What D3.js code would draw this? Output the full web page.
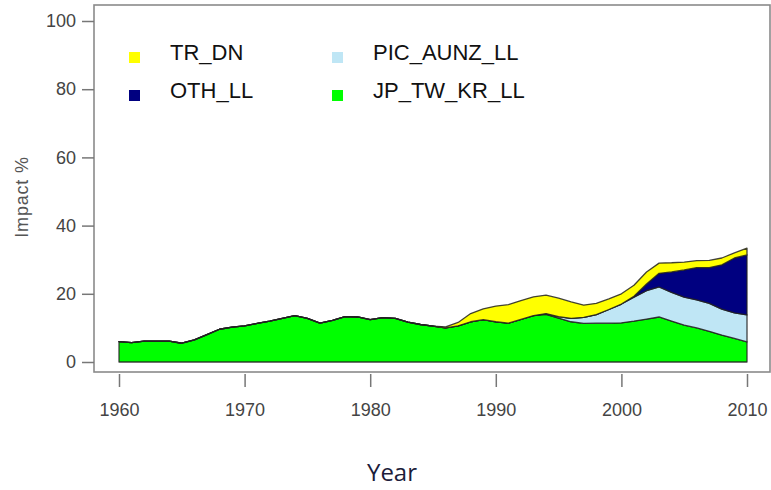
<!DOCTYPE html>
<html>
<head>
<meta charset="utf-8">
<script src="https://cdn.jsdelivr.net/npm/d3@7"></script>
<style>
	body { margin: 0; background: #fff; }
	svg { display: block; }
</style>
</head>
<body>
<div id="graph-container"></div>
<script>
// yearly impact (%) per fishery
const years = d3.range(1960, 2011);
const jpTwKrLL = [6.0, 5.7, 6.1, 6.1, 6.1, 5.5, 6.5, 8.0, 9.6, 10.2,
	10.6, 11.3, 12.0, 12.8, 13.6, 12.8, 11.4, 12.2, 13.3, 13.2,
	12.4, 13.0, 12.8, 11.7, 11.0, 10.5, 10.0, 10.6, 11.8, 12.4,
	11.8, 11.4, 12.5, 13.6, 14.0, 12.9, 11.8, 11.3, 11.4, 11.4,
	11.5, 12.0, 12.6, 13.2, 12.0, 10.8, 10.0, 9.0, 7.9, 6.9, 5.9];
const picAunzLL = [0, 0, 0, 0, 0, 0, 0, 0, 0, 0,
	0, 0, 0, 0, 0, 0, 0, 0, 0, 0,
	0, 0, 0, 0, 0, 0, 0, 0, 0, 0,
	0, 0, 0, 0, 0.2, 0.4, 1.0, 1.8, 2.5, 4.0,
	5.5, 7.0, 8.3, 8.8, 8.4, 8.2, 8.2, 8.2, 7.6, 7.5, 7.9];
const othLL = [0, 0, 0, 0, 0, 0, 0, 0, 0, 0,
	0, 0, 0, 0, 0, 0, 0, 0, 0, 0,
	0, 0, 0, 0, 0, 0, 0, 0, 0, 0,
	0, 0, 0, 0, 0, 0, 0, 0, 0, 0,
	0, 0.3, 2.0, 4.0, 6.0, 8.0, 9.5, 10.5, 13.0, 16.1, 17.6];
const trDN = [0, 0, 0, 0, 0, 0, 0, 0, 0, 0,
	0, 0, 0, 0, 0, 0, 0, 0, 0, 0,
	0, 0, 0, 0, 0, 0, 0.3, 1.0, 2.4, 3.2,
	4.6, 5.4, 5.5, 5.5, 5.4, 5.4, 4.8, 3.6, 3.3, 3.1,
	3.0, 3.2, 3.5, 3.0, 2.7, 2.3, 2.0, 2.1, 2.0, 1.5, 2.0];

const keys = ["JP_TW_KR_LL", "PIC_AUNZ_LL", "OTH_LL", "TR_DN"];
const colors = ["#00ff00", "#bfe6f5", "#000080", "#ffff00"];
const xTicks = [1960, 1970, 1980, 1990, 2000, 2010];
const yTicks = [0, 20, 40, 60, 80, 100];

// legend order as drawn (two columns)
const legendItems = [
	{ name: "TR_DN", color: "#ffff00", col: 0, row: 0 },
	{ name: "OTH_LL", color: "#000080", col: 0, row: 1 },
	{ name: "PIC_AUNZ_LL", color: "#bfe6f5", col: 1, row: 0 },
	{ name: "JP_TW_KR_LL", color: "#00ff00", col: 1, row: 1 }
];

const w = 771;
const h = 490;

const svg = d3.select("#graph-container")
	.append("svg")
	.attr("width", w)
	.attr("height", h);

const x = d3.scaleLinear().domain([1960, 2010]).range([119, 747]);
const y = d3.scaleLinear().domain([0, 100]).range([362, 21]);

// table for the stack
const rows = years.map((yr, i) => ({
	year: yr,
	JP_TW_KR_LL: jpTwKrLL[i],
	PIC_AUNZ_LL: picAunzLL[i],
	OTH_LL: othLL[i],
	TR_DN: trDN[i]
}));

const series = d3.stack().keys(keys)(rows);

const area = d3.area()
	.x(d => x(d.data.year))
	.y0(d => y(d[0]))
	.y1(d => y(d[1]));

svg.selectAll("path.layer")
	.data(series)
	.enter()
	.append("path")
	.attr("class", "layer")
	.attr("d", area)
	.attr("fill", (d, i) => colors[i])
	.attr("stroke", "#222")
	.attr("stroke-opacity", 0.85)
	.attr("stroke-linejoin", "round")
	.attr("stroke-width", 1.3);

// plot frame
svg.append("rect")
	.attr("x", 94)
	.attr("y", 5)
	.attr("width", 676)
	.attr("height", 367)
	.attr("fill", "none")
	.attr("stroke", "#8a8a8a")
	.attr("stroke-width", 1.6);

// y axis ticks and labels
const yAxis = d3.axisLeft(y)
	.tickValues(yTicks)
	.tickSize(12)
	.tickPadding(6);

const gy = svg.append("g")
	.attr("transform", "translate(94,0)")
	.call(yAxis);
gy.select(".domain").remove();
gy.selectAll("line").attr("stroke", "#777").attr("stroke-width", 1.5);
gy.selectAll("text")
	.attr("fill", "#444")
	.style("font-family", "'Liberation Sans', Arial, sans-serif")
	.style("font-size", "18px");

// x axis ticks and labels
const xAxis = d3.axisBottom(x)
	.tickValues(xTicks)
	.tickFormat(d3.format("d"))
	.tickSize(13)
	.tickPadding(16);

const gx = svg.append("g")
	.attr("transform", "translate(0,374)")
	.call(xAxis);
gx.select(".domain").remove();
gx.selectAll("line").attr("stroke", "#777").attr("stroke-width", 1.5);
gx.selectAll("text")
	.attr("fill", "#444")
	.style("font-family", "'Liberation Sans Narrow', 'Liberation Sans', Arial, sans-serif")
	.style("font-size", "18px");

// axis titles
svg.append("text")
	.attr("transform", "translate(28,197) rotate(-90)")
	.attr("text-anchor", "middle")
	.attr("fill", "#555")
	.style("font-family", "'Liberation Sans', Arial, sans-serif")
	.style("font-size", "18px")
	.style("letter-spacing", "0.8px")
	.text("Impact %");

svg.append("text")
	.attr("x", 392)
	.attr("y", 481)
	.attr("text-anchor", "middle")
	.attr("fill", "#1c1c3a")
	.style("font-family", "'Open Sans', 'Liberation Sans', sans-serif")
	.style("font-size", "24px")
	.text("Year");

// legend
const legend = svg.append("g");
const lg = legend.selectAll("g")
	.data(legendItems)
	.enter()
	.append("g")
	.attr("transform", d => `translate(${129 + d.col * 203},${52 + d.row * 38})`);

lg.append("rect")
	.attr("width", 11)
	.attr("height", 11)
	.attr("fill", d => d.color);

lg.append("text")
	.attr("x", 41)
	.attr("y", 8)
	.attr("fill", "#111")
	.style("font-family", "'Liberation Sans', Arial, sans-serif")
	.style("font-size", "22px")
	.text(d => d.name);
</script>
</body>
</html>
